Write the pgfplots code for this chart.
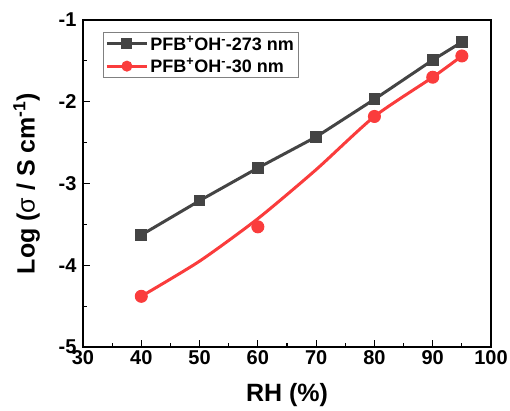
\documentclass[border=0pt]{standalone}
\usepackage{fontspec}
\setmainfont{Liberation Sans}
\usepackage{pgfplots}
\pgfplotsset{compat=1.18}
\definecolor{cgray}{RGB}{68,68,68}
\definecolor{cred}{RGB}{250,60,60}
\begin{document}
\begin{tikzpicture}
\useasboundingbox (-83pt,-64pt) rectangle (427pt,347pt);
\begin{axis}[
  scale only axis,
  width=408pt, height=327pt,
  xmin=30, xmax=100, ymin=-5, ymax=-1,
  xtick={30,40,50,60,70,80,90,100},
  xticklabels={30,40,50,60,70,80,90,100},
  ytick={-5,-4,-3,-2,-1},
  yticklabels={-5,-4,-3,-2,-1},
  minor x tick num=1, minor y tick num=1,
  tick pos=left,
  tick align=inside,
  major tick length=7pt, minor tick length=4pt,
  axis line style={line width=1.3pt},
  every tick/.style={line width=1.1pt, black},
  tick label style={font=\fontsize{20}{20}\selectfont\bfseries},
  xticklabel style={yshift=0pt},
  yticklabel style={xshift=-3pt},
  xlabel={\bfseries RH (\%)},
  ylabel={\bfseries Log (\mdseries σ\bfseries{} / S cm\textsuperscript{-1})},
  label style={font=\fontsize{25}{25}\selectfont},
  xlabel style={yshift=-12pt},
  ylabel style={yshift=12pt},
  legend style={at={(axis description cs:0,1)}, anchor=north west, xshift=20pt, yshift=-12pt,
    draw=gray, line width=0.8pt, font=\fontsize{18}{20}\selectfont\bfseries,
    inner sep=2pt, row sep=3pt},
  legend cell align=left,
  legend image code/.code={
    \draw[#1, line width=3pt] (0pt,0pt) -- (40pt,0pt);
    \draw[#1, only marks, mark repeat=1, mark size=5pt] plot coordinates {(20pt,0pt)};
  },
]
\addplot[cgray, line width=3pt, mark=square*, mark size=5.3pt, mark options={solid, fill=cgray, line width=1pt}]
  coordinates {(40,-3.63) (50,-3.21) (60,-2.81) (70,-2.43) (80,-1.97) (90,-1.49) (95,-1.27)};
\addlegendentry{PFB\textsuperscript{+}OH\textsuperscript{-}-273 nm}
\addplot[cred, line width=3pt, smooth, tension=0.4, forget plot]
  coordinates {(40,-4.38) (50,-3.95) (60,-3.43) (70,-2.83) (80,-2.18) (90,-1.70) (95,-1.44)};
\addplot[cred, line width=3pt, only marks, mark=*, mark size=6pt, mark options={fill=cred, line width=1pt}]
  coordinates {(40,-4.38) (60,-3.53) (80,-2.18) (90,-1.70) (95,-1.44)};
\addlegendentry{PFB\textsuperscript{+}OH\textsuperscript{-}-30 nm}
\end{axis}
\end{tikzpicture}
\end{document}
